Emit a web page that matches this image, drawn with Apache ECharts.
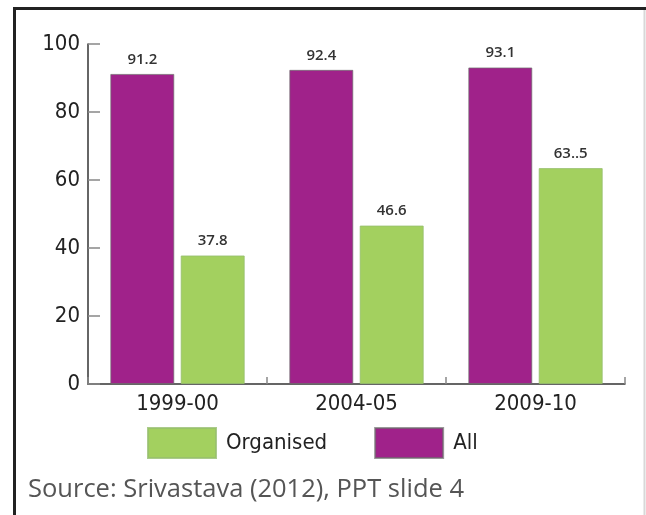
<!DOCTYPE html>
<html>
<head>
<meta charset="utf-8">
<script src="https://cdn.jsdelivr.net/npm/echarts@6/dist/echarts.min.js"></script>
<style>
html,body{margin:0;padding:0;background:#fff;}
#chart{width:646px;height:515px;}
</style>
</head>
<body>
<div id="chart"></div>
<script>
var categories = ['1999-00', '2004-05', '2009-10'];
var allValues = [91.2, 92.4, 93.1];
var organisedValues = [37.8, 46.6, 63.5];
var allLabels = ['91.2', '92.4', '93.1'];
var organisedLabels = ['37.8', '46.6', '63..5'];
var yTicks = [0, 20, 40, 60, 80, 100];
var sourceText = 'Source: Srivastava (2012), PPT slide 4';

var condFont = '"Liberation Sans Narrow", "DejaVu Sans Condensed", "Roboto", sans-serif';
var chart = echarts.init(document.getElementById('chart'), null, {renderer: 'canvas'});
var option = {
  animation: false,
  backgroundColor: '#ffffff',
  grid: {left: 88, right: 21, top: 44, bottom: 131, containLabel: false},
  legend: {
    data: ['Organised', 'All'],
    left: 147, top: 427, padding: 0,
    itemWidth: 68, itemHeight: 30, itemGap: 47,
    icon: 'rect',
    textStyle: {fontFamily: condFont, fontSize: 22, color: '#222', padding: [0, 0, 0, 5]}
  },
  xAxis: {
    type: 'category',
    data: categories,
    axisLine: {lineStyle: {color: '#333', width: 1.5}},
    axisTick: {show: true, inside: true, length: 7, lineStyle: {color: '#888', width: 1.5}},
    axisLabel: {fontFamily: condFont, fontSize: 22, color: '#222', margin: 9}
  },
  yAxis: {
    type: 'value',
    min: yTicks[0], max: yTicks[yTicks.length - 1], interval: 20,
    splitLine: {show: false},
    axisLine: {show: true, lineStyle: {color: '#333', width: 1.5}},
    axisTick: {show: true, inside: true, length: 12, lineStyle: {color: '#888', width: 1.5}},
    axisLabel: {fontFamily: condFont, fontSize: 22, color: '#222', margin: 8}
  },
  series: [
    {
      name: 'All', type: 'bar', data: allValues,
      barWidth: 64, barGap: '10%',
      itemStyle: {color: '#A0228A', borderColor: 'rgba(110,110,110,0.7)', borderWidth: 1},
      label: {show: true, position: 'top', distance: 7, fontFamily: '"Open Sans", sans-serif', fontWeight: 600, fontSize: 15, color: '#333',
        formatter: function (p) { return allLabels[p.dataIndex]; }}
    },
    {
      name: 'Organised', type: 'bar', data: organisedValues,
      barWidth: 64,
      itemStyle: {color: '#A3D05F', borderColor: 'rgba(150,190,110,0.8)', borderWidth: 1},
      label: {show: true, position: 'top', distance: 7, fontFamily: '"Open Sans", sans-serif', fontWeight: 600, fontSize: 15, color: '#333',
        formatter: function (p) { return organisedLabels[p.dataIndex]; }}
    }
  ],
  graphic: [
    {type: 'line', shape: {x1: 13, y1: 8.5, x2: 646, y2: 8.5}, style: {stroke: '#222', lineWidth: 3}, z: 100},
    {type: 'line', shape: {x1: 14.5, y1: 7, x2: 14.5, y2: 515}, style: {stroke: '#222', lineWidth: 3}, z: 100},
    {type: 'line', shape: {x1: 644.5, y1: 10, x2: 644.5, y2: 515}, style: {stroke: '#d8d8d8', lineWidth: 2}, z: 100},
    {type: 'text', left: 28, top: 477, style: {text: sourceText, fontFamily: '"Open Sans", sans-serif', fontSize: 25.5, fill: '#555'}, z: 100}
  ]
};
chart.setOption(option);
</script>
</body>
</html>
